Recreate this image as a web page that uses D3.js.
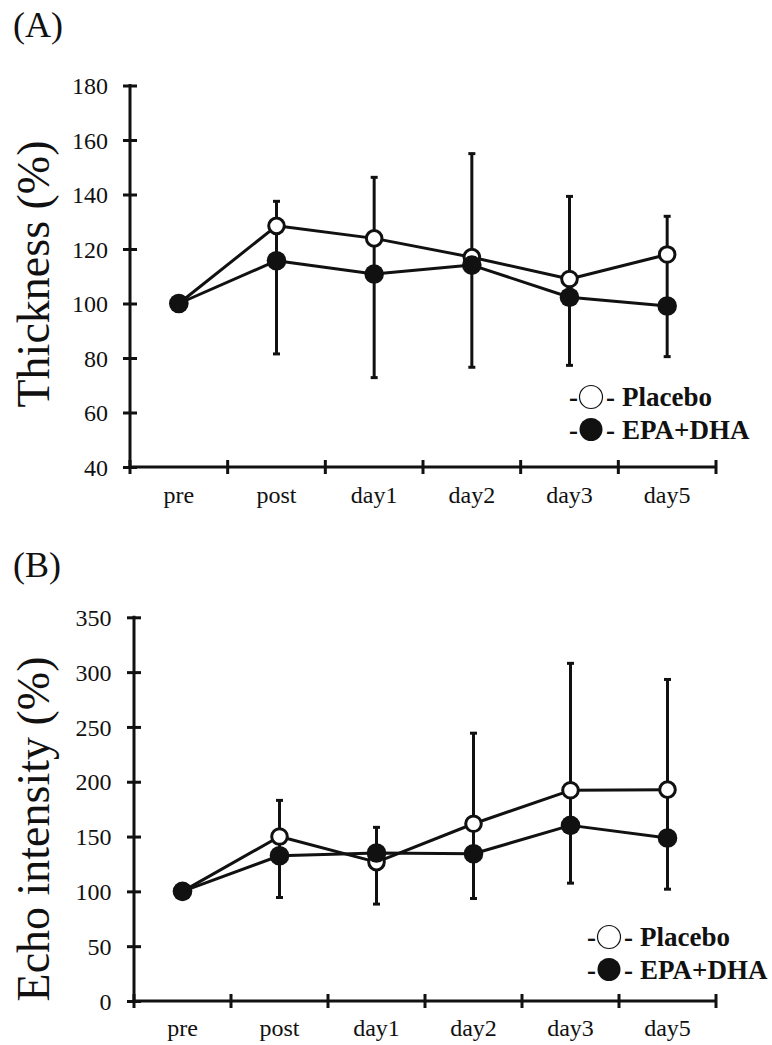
<!DOCTYPE html>
<html>
<head>
<meta charset="utf-8">
<script src="https://cdn.jsdelivr.net/npm/d3@7"></script>
<style>
  body { margin: 0; background: #fff; }
  text { font-family: "Liberation Serif", "Times New Roman", serif; fill: #111; }
</style>
</head>
<body>
<div id="chart"></div>
<script>
// time points
const timePoints = ["pre", "post", "day1", "day2", "day3", "day5"];

// (A) thickness, % of pre
const thickPlacebo = [100, 128.5, 123.9, 117.0, 109.0, 118.0];
const thickPlaceboSd = [0, 9.0, 22.4, 38.0, 30.3, 14.0];
const thickEpa = [100, 115.7, 110.8, 114.1, 102.3, 99.1];
const thickEpaSd = [0, 34.2, 38.0, 37.5, 25.0, 18.6];
const thickTicks = [40, 60, 80, 100, 120, 140, 160, 180];

// (B) echo intensity, % of pre
const echoPlacebo = [100, 150.0, 126.7, 161.7, 192.2, 192.8];
const echoPlaceboSd = [0, 33.0, 31.7, 82.6, 115.8, 100.5];
const echoEpa = [100, 132.5, 135.0, 134.3, 160.2, 148.7];
const echoEpaSd = [0, 38.1, 46.6, 40.8, 52.7, 46.7];
const echoTicks = [0, 50, 100, 150, 200, 250, 300, 350];

const seriesNames = ["Placebo", "EPA+DHA"];

const ink = "#111";
const svg = d3.select("#chart").append("svg")
    .attr("width", 772)
    .attr("height", 1045);

function drawPanel(cfg) {
    const g = svg.append("g");
    const x = d3.scaleBand().domain(timePoints).range([cfg.left, cfg.right]);
    const y = d3.scaleLinear().domain(cfg.domain).range([cfg.bottom, cfg.top]);
    const cx = d => x(d) + x.bandwidth() / 2;

    // panel letter
    g.append("text")
        .attr("x", 13).attr("y", cfg.letterY)
        .attr("font-size", 36)
        .text(cfg.letter);

    // y axis
    const yAxis = g.append("g")
        .attr("transform", "translate(" + cfg.left + ",0)")
        .call(d3.axisLeft(y).tickValues(cfg.ticks).tickSize(0).tickPadding(cfg.labelPad));
    yAxis.select(".domain").remove();
    yAxis.selectAll(".tick text")
        .attr("font-size", 24)
        .attr("fill", ink)
        .attr("dy", "0.34em");
    yAxis.selectAll(".tick").append("line")
        .attr("x1", -7).attr("x2", 7)
        .attr("stroke", ink).attr("stroke-width", 3);
    g.append("line")
        .attr("x1", cfg.left).attr("x2", cfg.left)
        .attr("y1", y(cfg.domain[1]) - 1.5).attr("y2", cfg.bottom)
        .attr("stroke", ink).attr("stroke-width", 3);

    // x axis: ticks on the band edges, labels in the middle
    const edges = timePoints.map(d => x(d)).concat([x.range()[1]]);
    g.append("line")
        .attr("x1", cfg.left).attr("x2", cfg.right)
        .attr("y1", cfg.bottom).attr("y2", cfg.bottom)
        .attr("stroke", ink).attr("stroke-width", 3);
    g.selectAll(".xtick").data(edges).join("line")
        .attr("class", "xtick")
        .attr("x1", d => d).attr("x2", d => d)
        .attr("y1", cfg.bottom - 7).attr("y2", cfg.bottom + 7)
        .attr("stroke", ink).attr("stroke-width", 3);
    g.selectAll(".xlab").data(timePoints).join("text")
        .attr("class", "xlab")
        .attr("x", cx)
        .attr("y", cfg.xLabelY)
        .attr("text-anchor", "middle")
        .attr("font-size", 24)
        .text(d => d);

    // y title
    g.append("text")
        .attr("transform", "translate(49," + cfg.titleY + ") rotate(-90)")
        .attr("text-anchor", "middle")
        .attr("font-size", 46)
        .text(cfg.title);

    // error bars: placebo upward, EPA+DHA downward, joined through the means
    const rows = timePoints.map((t, i) => ({
        t: t,
        plc: cfg.placebo[i], plcSd: cfg.placeboSd[i],
        epa: cfg.epa[i], epaSd: cfg.epaSd[i]
    })).filter(r => r.plcSd > 0 || r.epaSd > 0);

    g.selectAll(".ebar").data(rows).join("line")
        .attr("class", "ebar")
        .attr("x1", r => cx(r.t)).attr("x2", r => cx(r.t))
        .attr("y1", r => y(r.plc + r.plcSd))
        .attr("y2", r => y(r.epa - r.epaSd))
        .attr("stroke", ink).attr("stroke-width", 3);
    g.selectAll(".capTop").data(rows).join("line")
        .attr("class", "capTop")
        .attr("x1", r => cx(r.t) - 3.5).attr("x2", r => cx(r.t) + 3.5)
        .attr("y1", r => y(r.plc + r.plcSd)).attr("y2", r => y(r.plc + r.plcSd))
        .attr("stroke", ink).attr("stroke-width", 3);
    g.selectAll(".capBot").data(rows).join("line")
        .attr("class", "capBot")
        .attr("x1", r => cx(r.t) - 3.5).attr("x2", r => cx(r.t) + 3.5)
        .attr("y1", r => y(r.epa - r.epaSd)).attr("y2", r => y(r.epa - r.epaSd))
        .attr("stroke", ink).attr("stroke-width", 3);

    // lines
    const line = d3.line().x((d, i) => cx(timePoints[i])).y(d => y(d));
    [cfg.placebo, cfg.epa].forEach(vals => {
        g.append("path")
            .attr("d", line(vals))
            .attr("fill", "none")
            .attr("stroke", ink)
            .attr("stroke-width", 3)
            .attr("stroke-linejoin", "round");
    });

    // markers (filled drawn on top)
    g.selectAll(".plcPt").data(cfg.placebo).join("circle")
        .attr("class", "plcPt")
        .attr("cx", (d, i) => cx(timePoints[i]))
        .attr("cy", d => y(d))
        .attr("r", 7.8)
        .attr("fill", "#fff")
        .attr("stroke", ink).attr("stroke-width", 3);
    g.selectAll(".epaPt").data(cfg.epa).join("circle")
        .attr("class", "epaPt")
        .attr("cx", (d, i) => cx(timePoints[i]))
        .attr("cy", d => y(d))
        .attr("r", 9.8)
        .attr("fill", ink);

    // legend
    seriesNames.forEach((name, i) => {
        const by = cfg.legendY + i * 32.5;
        const lg = g.append("g");
        lg.append("text").attr("x", cfg.legendX).attr("y", by)
            .attr("font-size", 27).attr("font-weight", "bold").text("-");
        lg.append("circle")
            .attr("cx", cfg.legendX + 22).attr("cy", by - 9)
            .attr("r", 11.5)
            .attr("fill", i === 0 ? "#fff" : ink)
            .attr("stroke", ink).attr("stroke-width", i === 0 ? 1.2 : 0);
        lg.append("text").attr("x", cfg.legendX + 37).attr("y", by)
            .attr("font-size", 27).attr("font-weight", "bold").text("-");
        lg.append("text").attr("x", cfg.legendX + 53).attr("y", by)
            .attr("font-size", 27).attr("font-weight", "bold")
            .text(name);
    });
}

drawPanel({
    letter: "(A)", letterY: 37,
    title: "Thickness (%)", titleY: 274,
    left: 130, right: 716, top: 85.5, bottom: 467,
    domain: [40, 180], ticks: thickTicks, labelPad: 22,
    xLabelY: 503,
    placebo: thickPlacebo, placeboSd: thickPlaceboSd,
    epa: thickEpa, epaSd: thickEpaSd,
    legendX: 569, legendY: 406
});

drawPanel({
    letter: "(B)", letterY: 577,
    title: "Echo intensity (%)", titleY: 829,
    left: 134, right: 716, top: 617.3, bottom: 1001,
    domain: [0, 350], ticks: echoTicks, labelPad: 22.5,
    xLabelY: 1036,
    placebo: echoPlacebo, placeboSd: echoPlaceboSd,
    epa: echoEpa, epaSd: echoEpaSd,
    legendX: 587, legendY: 946
});
</script>
</body>
</html>
